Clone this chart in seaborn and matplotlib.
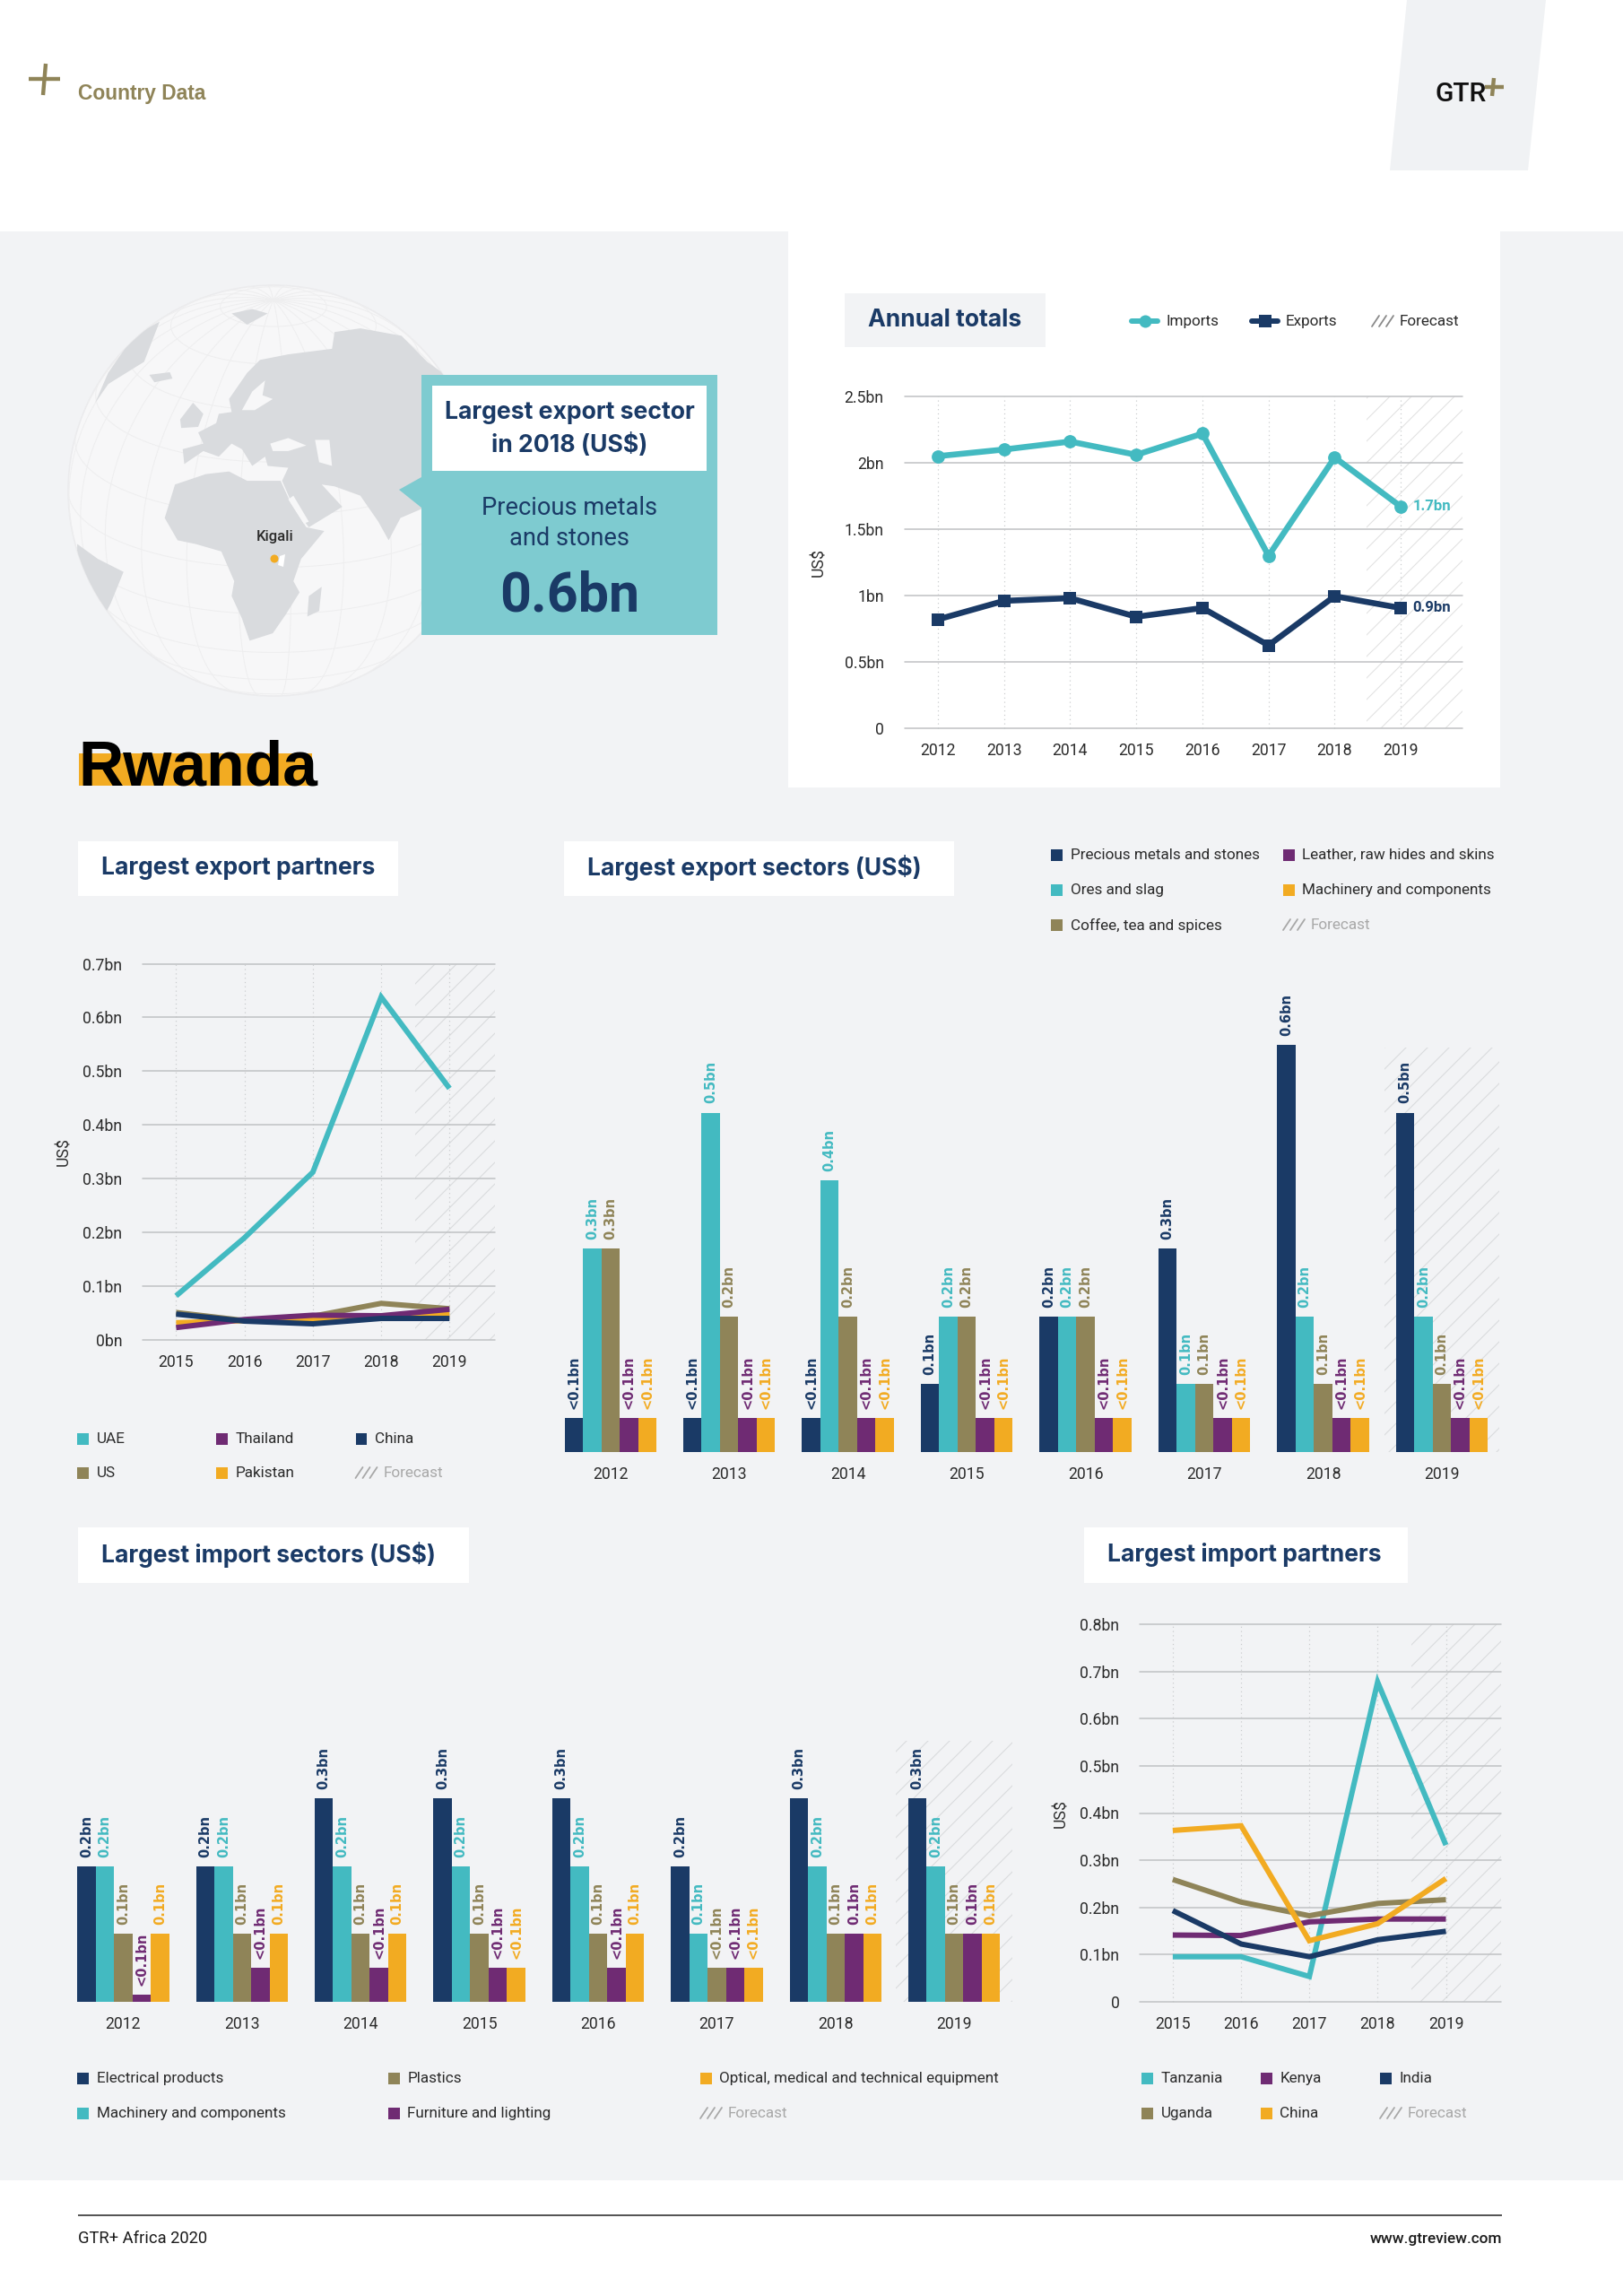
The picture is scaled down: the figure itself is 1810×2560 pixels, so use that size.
import numpy as np
import pandas as pd
import matplotlib
matplotlib.use("Agg")
import matplotlib.pyplot as plt
from matplotlib.patches import Circle, Polygon, Rectangle
import seaborn as sns

# Data
annual_years = [2012, 2013, 2014, 2015, 2016, 2017, 2018, 2019]
annual_imports = [2.05, 2.10, 2.16, 2.06, 2.22, 1.30, 2.04, 1.67]
annual_exports = [0.82, 0.96, 0.98, 0.84, 0.906, 0.625, 0.995, 0.906]
annual_ticks = [0, 0.5, 1, 1.5, 2, 2.5]
annual_ticklabels = ["0", "0.5bn", "1bn", "1.5bn", "2bn", "2.5bn"]

partner_years = [2015, 2016, 2017, 2018, 2019]
exp_uae = [0.082, 0.19, 0.312, 0.638, 0.468]
exp_us = [0.051, 0.036, 0.044, 0.068, 0.058]
exp_pakistan = [0.032, 0.036, 0.038, 0.045, 0.047]
exp_thailand = [0.023, 0.038, 0.046, 0.045, 0.057]
exp_china = [0.048, 0.035, 0.030, 0.040, 0.040]
exp_ticks = [0, 0.1, 0.2, 0.3, 0.4, 0.5, 0.6, 0.7]
exp_ticklabels = ["0bn", "0.1bn", "0.2bn", "0.3bn", "0.4bn", "0.5bn", "0.6bn", "0.7bn"]

imp_tanzania = [0.095, 0.095, 0.053, 0.678, 0.332]
imp_uganda = [0.259, 0.211, 0.182, 0.208, 0.216]
imp_kenya = [0.141, 0.140, 0.169, 0.175, 0.175]
imp_china = [0.363, 0.373, 0.129, 0.165, 0.261]
imp_india = [0.193, 0.122, 0.095, 0.131, 0.149]
imp_ticks = [0, 0.1, 0.2, 0.3, 0.4, 0.5, 0.6, 0.7, 0.8]
imp_ticklabels = ["0", "0.1bn", "0.2bn", "0.3bn", "0.4bn", "0.5bn", "0.6bn", "0.7bn", "0.8bn"]

bar_years = ["2012", "2013", "2014", "2015", "2016", "2017", "2018", "2019"]
# <0.1bn bars are drawn at half a tick in the original
sec_precious = [0.05, 0.05, 0.05, 0.1, 0.2, 0.3, 0.6, 0.5]
sec_ores = [0.3, 0.5, 0.4, 0.2, 0.2, 0.1, 0.2, 0.2]
sec_coffee = [0.3, 0.2, 0.2, 0.2, 0.2, 0.1, 0.1, 0.1]
sec_leather = [0.05, 0.05, 0.05, 0.05, 0.05, 0.05, 0.05, 0.05]
sec_machinery = [0.05, 0.05, 0.05, 0.05, 0.05, 0.05, 0.05, 0.05]

isec_electrical = [0.2, 0.2, 0.3, 0.3, 0.3, 0.2, 0.3, 0.3]
isec_machinery = [0.2, 0.2, 0.2, 0.2, 0.2, 0.1, 0.2, 0.2]
isec_plastics = [0.1, 0.1, 0.1, 0.1, 0.1, 0.05, 0.1, 0.1]
isec_furniture = [0.01, 0.05, 0.05, 0.05, 0.05, 0.05, 0.1, 0.1]
isec_optical = [0.1, 0.1, 0.1, 0.05, 0.1, 0.05, 0.1, 0.1]

NAVY = "#1a3a66"
TEAL = "#43bac1"
OLIVE = "#8f8458"
PURPLE = "#6f2b73"
ORANGE = "#f2ab22"
PANEL = "#f2f3f5"
GRID = "#c2c4c6"
TEXT = "#2b2b2b"
FADED = "#a8a8a8"

W, H, DPI = 1810, 2560, 144

sns.set_style("white")
plt.rcParams["font.family"] = ["Roboto", "DejaVu Sans"]
plt.rcParams["hatch.linewidth"] = 0.55
plt.rcParams["axes.unicode_minus"] = False

fig = plt.figure(figsize=(W / DPI, H / DPI), dpi=DPI, facecolor="white")

# page layer in image pixels, everything decorative goes here
page = fig.add_axes([0, 0, 1, 1], zorder=0)
page.set_xlim(0, W)
page.set_ylim(H, 0)
page.axis("off")


def box(x0, y0, x1, y1, color, z=1):
    page.add_patch(Rectangle((x0, y0), x1 - x0, y1 - y0, facecolor=color, edgecolor="none", zorder=z))


def label(x, y, s, size=8.55, color=TEXT, ha="left", weight="normal", z=6, **kw):
    page.text(x, y, s, fontsize=size, color=color, ha=ha, va="center", fontweight=weight, zorder=z, **kw)


def legend_item(x, y, s, color):
    box(x, y - 6.5, x + 12.5, y + 6.5, color, z=5)
    label(x + 21.5, y + 0.5, s)


def forecast_item(x, y, color=FADED, gap=9):
    for dx in (0, 8, 16):
        page.plot([x + dx, x + dx + 8], [y + 6, y - 6], color=color, lw=0.9, zorder=5)
    label(x + 24 + gap - 2, y + 0.5, "Forecast", color=color)


def title_box(x0, y0, x1, y1, s, color="white", size=13.25):
    box(x0, y0, x1, y1, color, z=2)
    label(x0 + 26, (y0 + y1) / 2 - 0.5, s, size=size, color=NAVY, weight="bold", family="Inter")


def px_axes(l, t, r, b):
    ax = fig.add_axes([l / W, 1 - b / H, (r - l) / W, (b - t) / H], zorder=2)
    ax.patch.set_alpha(0)
    sns.despine(ax=ax, left=True, bottom=True)
    return ax


def line_chart(l, t, r, b, x0, x1, hatch_x, years, series, colors, ticks, ticklabels, ylab_x, hatch_color, **line_kw):
    ax = px_axes(l, t, r, b)
    step = (x1 - x0) / (years[-1] - years[0])
    xmin = years[0] - (x0 - l) / step
    xmax = years[0] + (r - x0) / step
    ax.fill_between([years[0] + (hatch_x - x0) / step, xmax], 0, ticks[-1], facecolor="none",
                    edgecolor=hatch_color, hatch="//", linewidth=0, zorder=0.5)
    df = pd.DataFrame(series, index=years).rename_axis("year").reset_index().melt("year", var_name="name")
    sns.lineplot(data=df, x="year", y="value", hue="name", hue_order=list(series), palette=colors,
                 legend=False, errorbar=None, ax=ax, zorder=3, **line_kw)
    ax.set_xlim(xmin, xmax)
    ax.set_ylim(ticks[0], ticks[-1])
    ax.set_xticks(years)
    ax.set_xticklabels([str(y) for y in years])
    ax.set_yticks(ticks)
    ax.set_yticklabels(ticklabels)
    ax.tick_params(axis="both", length=0, labelsize=8.8, labelcolor=TEXT)
    ax.tick_params(axis="y", pad=11.5)
    ax.tick_params(axis="x", pad=8)
    ax.grid(True, axis="y", color=GRID, lw=0.8, zorder=1)
    ax.grid(True, axis="x", color="#c9cbcd", lw=0.6, ls=(0, (1, 3)), zorder=1)
    ax.set_axisbelow(True)
    for art in ax.get_ygridlines() + ax.get_xgridlines():
        art.set_clip_on(False)
    ax.set_xlabel("")
    ax.set_ylabel("US$", fontsize=8.8, color=TEXT)
    ax.yaxis.set_label_coords((ylab_x + 8 - l) / (r - l), 0.5)
    return ax


def bar_chart(l, t, r, b, centre0, step, hatch_x, hatch_top, categories, series, colors, hatch_color):
    ax = px_axes(l, t, r, b)
    df = pd.DataFrame(series, index=categories).rename_axis("year").reset_index().melt("year", var_name="name")
    sns.barplot(data=df, x="year", y="value", hue="name", hue_order=list(series), palette=colors,
                width=102.5 / step, gap=0, saturation=1, linewidth=0, legend=False, ax=ax, zorder=2)
    xmin, xmax = (l - centre0) / step, (r - centre0) / step
    ax.fill_between([(hatch_x - centre0) / step, xmax], 0, hatch_top, facecolor="none",
                    edgecolor=hatch_color, hatch="//", linewidth=0, zorder=0.5)
    ax.set_xlim(xmin, xmax)
    ax.set_ylim(0, (b - t) / 757)
    ax.set_yticks([])
    ax.set_xlabel("")
    ax.set_ylabel("")
    ax.tick_params(axis="x", length=0, labelsize=8.8, labelcolor=TEXT, pad=8)
    for cont, (name, vals), col in zip(ax.containers, series.items(), colors):
        texts = ["<0.1bn" if v < 0.1 else f"{v:g}bn" for v in vals]
        ax.bar_label(cont, labels=texts, rotation=90, padding=5, color=col, fontsize=7.3,
                     fontweight="bold", family="DejaVu Sans")
    return ax


# backgrounds
box(0, 258, W, 2431, PANEL, z=0)
box(879, 258, 1673, 878, "white", z=0.5)

# header
page.plot([32, 67], [88, 88], color=OLIVE, lw=2.2, solid_capstyle="butt")
page.plot([51, 48], [71, 106], color=OLIVE, lw=2.2, solid_capstyle="butt")
label(87, 104, "Country Data", size=11.4, color=OLIVE, weight="bold", family="Liberation Sans")
page.add_patch(Polygon([(1569, 0), (1724, 0), (1704, 190), (1550, 190)], facecolor="#f0f2f4", edgecolor="none"))
label(1600, 105, "GTR", size=15, color="#111111", weight="medium")
page.plot([1656, 1677], [97, 97], color=OLIVE, lw=2.2, solid_capstyle="butt", zorder=6)
page.plot([1666, 1664], [87, 107], color=OLIVE, lw=2.2, solid_capstyle="butt", zorder=6)

# globe
globe = Circle((305, 547), 229, facecolor="#f7f7f8", edgecolor="#ebebed", lw=0.8, zorder=1)
page.add_patch(globe)
R, lat0, lon0 = 229, np.radians(22), np.radians(25)


def ortho(lat, lon):
    c = np.sin(lat0) * np.sin(lat) + np.cos(lat0) * np.cos(lat) * np.cos(lon - lon0)
    x = np.cos(lat) * np.sin(lon - lon0)
    y = np.cos(lat0) * np.sin(lat) - np.sin(lat0) * np.cos(lat) * np.cos(lon - lon0)
    x, y = np.where(c >= 0, x, np.nan), np.where(c >= 0, y, np.nan)
    return 305 + R * x, 547 - R * y


t = np.radians(np.linspace(-180, 180, 361))
for d in range(-75, 90, 15):
    gx, gy = ortho(np.full_like(t, np.radians(d)), t)
    page.plot(gx, gy, color="#eeeeef", lw=0.5, zorder=1.2)
for d in range(-180, 180, 15):
    gx, gy = ortho(t / 2, np.full_like(t, np.radians(d)))
    page.plot(gx, gy, color="#eeeeef", lw=0.5, zorder=1.2)

# rough land shapes, traced in the zoomed crop and scaled back
land = [
    [(340, 700), (400, 672), (445, 665), (480, 690), (545, 690), (565, 750), (595, 815), (630, 825), (585, 900),
     (570, 960), (582, 990), (555, 1050), (530, 1100), (485, 1120), (470, 1060), (450, 1000), (455, 960), (430, 880),
     (380, 860), (345, 850), (320, 790)],
    [(358, 645), (355, 605), (395, 590), (385, 560), (420, 535), (425, 510), (450, 505), (445, 470), (480, 400),
     (505, 365), (560, 350), (645, 335), (650, 290), (700, 280), (780, 300), (830, 370), (860, 400), (900, 400),
     (900, 760), (825, 762), (778, 790), (755, 850), (735, 800), (700, 730), (650, 705), (625, 700), (665, 760),
     (600, 815), (570, 760), (548, 690), (560, 655), (520, 650), (515, 625), (490, 650), (470, 605), (450, 590),
     (425, 625), (395, 610)],
    [(150, 860), (190, 900), (240, 935), (215, 1020), (200, 1060), (150, 960)],
    [(185, 480), (210, 400), (260, 300), (310, 262), (280, 370), (210, 430)],
    [(350, 525), (375, 480), (395, 510), (385, 545), (352, 548)],
    [(290, 405), (330, 398), (335, 415), (300, 425)],
    [(450, 240), (490, 228), (520, 240), (480, 270)],
    [(597, 1055), (600, 1000), (625, 975), (620, 1040)],
]
holes = [
    [(525, 590), (560, 575), (595, 595), (560, 610), (530, 610)],
    [(612, 580), (640, 580), (645, 650), (620, 640)],
    [(470, 500), (490, 450), (515, 420), (510, 460), (530, 470), (495, 500)],
    [(560, 740), (570, 730), (600, 800), (590, 805)],
]
clip = Circle((305, 547), 229, transform=page.transData)
for shape, col in [(s, "#d9dbde") for s in land] + [(s, "#f7f7f8") for s in holes]:
    pts = [(a / 1.742, b / 2.412 + 250) for a, b in shape]
    poly = Polygon(pts, facecolor=col, edgecolor="none", zorder=1.5)
    page.add_patch(poly)
    poly.set_clip_path(clip)
page.add_patch(Polygon([(312, 620), (318, 618), (316, 632), (310, 630)], facecolor="white", edgecolor="none", zorder=1.6))
page.add_patch(Circle((306, 623), 4.5, facecolor=ORANGE, edgecolor="none", zorder=1.7))
label(307, 598, "Kigali", size=8.4, ha="center", weight="medium")

# callout
box(470, 418, 800, 708, "#7ecbd0", z=3)
page.add_patch(Polygon([(445, 546), (470, 532), (470, 566)], facecolor="#7ecbd0", edgecolor="none", zorder=3))
box(482, 430, 788, 525, "white", z=3.5)
label(635, 460, "Largest export sector", size=13.3, color=NAVY, ha="center", weight="bold", family="Inter")
label(635, 496, "in 2018 (US$)", size=13.3, color=NAVY, ha="center", weight="bold", family="Inter")
label(635, 566, "Precious metals", size=13.6, color=NAVY, ha="center")
label(635, 601, "and stones", size=13.6, color=NAVY, ha="center")
label(635, 665, "0.6bn", size=30.5, color=NAVY, ha="center", weight="bold")

# country name
box(88, 840, 348, 876, ORANGE, z=1)
page.text(87, 876, "Rwanda", fontsize=34.8, fontweight="bold", color="black", family="Liberation Sans",
          va="baseline", zorder=2)

# section titles
title_box(942, 327, 1166, 387, "Annual totals", color=PANEL)
title_box(87, 938, 444, 999, "Largest export partners")
title_box(629, 938, 1064, 999, "Largest export sectors (US$)")
title_box(87, 1703, 523, 1765, "Largest import sectors (US$)")
title_box(1209, 1703, 1570, 1765, "Largest import partners")

# annual totals
ax = line_chart(1008.6, 442, 1630.5, 812, 1046, 1562.2, 1524, annual_years,
                {"Imports": annual_imports, "Exports": annual_exports}, [TEAL, NAVY],
                annual_ticks, annual_ticklabels, 914, "#e2e2e2",
                style="name", markers={"Imports": "o", "Exports": "s"}, dashes=False,
                linewidth=3.3, markersize=7.4, markeredgewidth=0)
ax.annotate("1.7bn", (annual_years[-1], annual_imports[-1]), xytext=(6.5, 0), textcoords="offset points",
            color=TEAL, fontsize=8.4, fontweight="bold", va="center", zorder=5)
ax.annotate("0.9bn", (annual_years[-1], annual_exports[-1]), xytext=(6.5, 0), textcoords="offset points",
            color=NAVY, fontsize=8.4, fontweight="bold", va="center", zorder=5)
page.plot([1262, 1291], [358, 358], color=TEAL, lw=3, zorder=5)
page.plot([1276.5], [358], "o", color=TEAL, ms=7, mew=0, zorder=5)
label(1300, 359, "Imports")
page.plot([1396, 1425], [358, 358], color=NAVY, lw=3, zorder=5)
page.plot([1410.5], [358], "s", color=NAVY, ms=7, mew=0, zorder=5)
label(1434, 359, "Exports")
forecast_item(1530, 358, color="#8a8a8a", gap=9)
page.texts[-1].set_color(TEXT)

# export partners
line_chart(159, 1074.5, 551.7, 1494, 196.4, 501.3, 463, partner_years,
           {"UAE": exp_uae, "US": exp_us, "Pakistan": exp_pakistan, "Thailand": exp_thailand, "China": exp_china},
           [TEAL, OLIVE, ORANGE, PURPLE, NAVY], exp_ticks, exp_ticklabels, 72, "#d9dbdd",
           linewidth=3, solid_joinstyle="miter", solid_capstyle="butt")
legend_item(86, 1604, "UAE", TEAL)
legend_item(86, 1642, "US", OLIVE)
legend_item(241, 1604, "Thailand", PURPLE)
legend_item(241, 1642, "Pakistan", ORANGE)
legend_item(396.5, 1604, "China", NAVY)
forecast_item(396.5, 1642)

# export sectors
bar_chart(629.5, 1090, 1672, 1619, 680.75, 132.46, 1543.6, 0.596, bar_years,
          {"Precious metals and stones": sec_precious, "Ores and slag": sec_ores, "Coffee, tea and spices": sec_coffee,
           "Leather, raw hides and skins": sec_leather, "Machinery and components": sec_machinery},
          [NAVY, TEAL, OLIVE, PURPLE, ORANGE], "#d9dbdd")
legend_item(1172, 953, "Precious metals and stones", NAVY)
legend_item(1172, 992, "Ores and slag", TEAL)
legend_item(1172, 1031, "Coffee, tea and spices", OLIVE)
legend_item(1431, 953, "Leather, raw hides and skins", PURPLE)
legend_item(1431, 992, "Machinery and components", ORANGE)
forecast_item(1431, 1031)

# import sectors
bar_chart(86, 1854, 1129, 2232, 137.4, 132.4, 999, 0.385, bar_years,
          {"Electrical products": isec_electrical, "Machinery and components": isec_machinery,
           "Plastics": isec_plastics, "Furniture and lighting": isec_furniture,
           "Optical, medical and technical equipment": isec_optical},
          [NAVY, TEAL, OLIVE, PURPLE, ORANGE], "#d9dbdd")
legend_item(86, 2317, "Electrical products", NAVY)
legend_item(86, 2356, "Machinery and components", TEAL)
legend_item(433, 2317, "Plastics", OLIVE)
legend_item(433, 2356, "Furniture and lighting", PURPLE)
legend_item(781, 2317, "Optical, medical and technical equipment", ORANGE)
forecast_item(781, 2356)

# import partners
line_chart(1271.4, 1811.4, 1674, 2231.6, 1307.9, 1612.5, 1574, partner_years,
           {"Tanzania": imp_tanzania, "Uganda": imp_uganda, "Kenya": imp_kenya, "China": imp_china, "India": imp_india},
           [TEAL, OLIVE, PURPLE, ORANGE, NAVY], imp_ticks, imp_ticklabels, 1184, "#d9dbdd",
           linewidth=3, solid_joinstyle="miter", solid_capstyle="butt")
legend_item(1273, 2317, "Tanzania", TEAL)
legend_item(1273, 2356, "Uganda", OLIVE)
legend_item(1406, 2317, "Kenya", PURPLE)
legend_item(1406, 2356, "China", ORANGE)
legend_item(1539, 2317, "India", NAVY)
forecast_item(1539, 2356)

# footer
page.plot([87, 1675], [2470, 2470], color="#444444", lw=0.9, solid_capstyle="butt")
label(87, 2496, "GTR+ Africa 2020", size=9.2, color="#1c1c1c")
label(1675, 2496, "www.gtreview.com", size=8.6, color="#1c1c1c", ha="right", weight="medium")

fig.savefig("out.png", dpi=DPI, facecolor="white")
